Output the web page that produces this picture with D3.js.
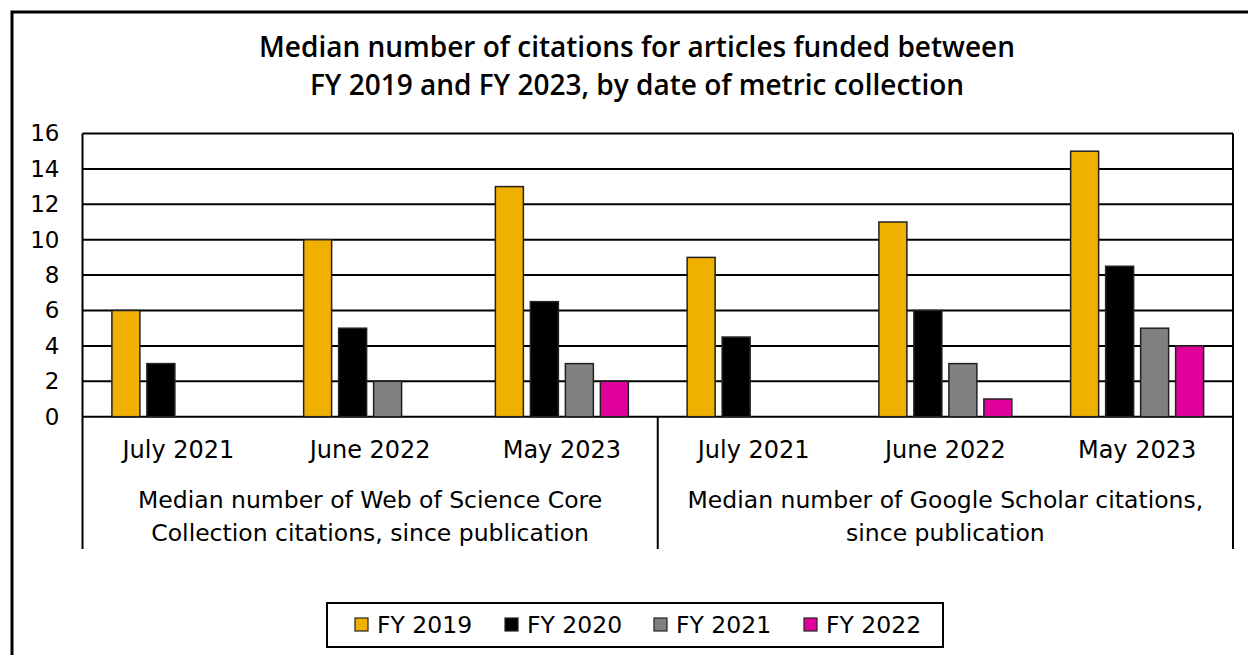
<!DOCTYPE html>
<html>
<head>
<meta charset="utf-8">
<script src="https://cdn.jsdelivr.net/npm/d3@7"></script>
<style>
  body { margin: 0; background: #fff; }
  text { fill: #000; }
</style>
</head>
<body>
<div id="chart"></div>
<script>
var width = 1248;
var height = 655;

// data
var titleLines = ["Median number of citations for articles funded between",
                  "FY 2019 and FY 2023, by date of metric collection"];
var dates = ["July 2021", "June 2022", "May 2023"];
var groups = [
    ["Median number of Web of Science Core", "Collection citations, since publication"],
    ["Median number of Google Scholar citations,", "since publication"]
];
var seriesNames = ["FY 2019", "FY 2020", "FY 2021", "FY 2022"];
var seriesColors = ["#f0b000", "#000000", "#808080", "#e0009a"];
// order: WoS July21, June22, May23, GS July21, June22, May23
var fy2019 = [6, 10, 13, 9, 11, 15];
var fy2020 = [3, 5, 6.5, 4.5, 6, 8.5];
var fy2021 = [null, 2, 3, null, 3, 5];
var fy2022 = [null, null, 2, null, 1, 4];
var yTicks = [0, 2, 4, 6, 8, 10, 12, 14, 16];

var allSeries = [fy2019, fy2020, fy2021, fy2022];

var plot = {left: 82.5, right: 1233, top: 133.5, bottom: 416.7, axisBottom: 549};
var labelFont = "'DejaVu Sans', sans-serif";

var svg = d3.select('#chart')
    .append('svg')
    .attr('width', width)
    .attr('height', height);

// outer frame (right and bottom edges fall outside the picture)
svg.append('rect')
    .attr('x', 12).attr('y', 12)
    .attr('width', 1400).attr('height', 800)
    .attr('fill', 'none')
    .attr('stroke', '#000')
    .attr('stroke-width', 3);

// title
svg.append('g').selectAll('text')
    .data(titleLines)
    .enter().append('text')
    .attr('x', 637)
    .attr('y', function(d, i) { return 57 + i * 38; })
    .attr('text-anchor', 'middle')
    .style('font-family', "'Open Sans', sans-serif")
    .style('font-size', '28px')
    .style('font-weight', '600')
    .text(function(d) { return d; });

var keys = [];
groups.forEach(function(g, gi) {
    dates.forEach(function(d, di) { keys.push(gi + '|' + di); });
});

var x0 = d3.scaleBand().domain(keys).range([plot.left, plot.right]).padding(0);
var x1 = d3.scaleBand().domain(seriesNames).range([0, x0.bandwidth()])
    .paddingInner(0.2).paddingOuter(0.84);
var y = d3.scaleLinear().domain([0, 16]).range([plot.bottom, plot.top]);

// gridlines
svg.append('g').selectAll('line')
    .data(yTicks)
    .enter().append('line')
    .attr('x1', plot.left).attr('x2', plot.right)
    .attr('y1', function(d) { return y(d); })
    .attr('y2', function(d) { return y(d); })
    .attr('stroke', '#000')
    .attr('stroke-width', 2);

// y axis labels
var yAxis = d3.axisLeft(y).tickValues(yTicks).tickSize(0).tickPadding(23);
var gy = svg.append('g')
    .attr('transform', 'translate(' + plot.left + ',0)')
    .call(yAxis);
gy.select('.domain').remove();
gy.selectAll('text')
    .style('font-family', labelFont)
    .style('font-size', '23px')
    .attr('fill', '#000');

// bars
var barData = [];
allSeries.forEach(function(vals, si) {
    vals.forEach(function(v, ki) {
        if (v != null) barData.push({series: seriesNames[si], color: seriesColors[si], key: keys[ki], value: v});
    });
});
svg.append('g').selectAll('rect')
    .data(barData)
    .enter().append('rect')
    .attr('x', function(d) { return x0(d.key) + x1(d.series); })
    .attr('width', x1.bandwidth())
    .attr('y', function(d) { return y(d.value); })
    .attr('height', function(d) { return y(0) - y(d.value); })
    .attr('fill', function(d) { return d.color; })
    .attr('stroke', '#222')
    .attr('stroke-width', 1.5);

// frame lines: left, right, group divider
var groupWidth = x0.bandwidth() * dates.length;
var vlines = [plot.left, plot.left + groupWidth, plot.right];
svg.append('g').selectAll('line')
    .data(vlines)
    .enter().append('line')
    .attr('x1', function(d) { return d; })
    .attr('x2', function(d) { return d; })
    .attr('y1', function(d, i) { return i == 1 ? plot.bottom : plot.top; })
    .attr('y2', plot.axisBottom)
    .attr('stroke', '#000')
    .attr('stroke-width', 2);

// date labels
svg.append('g').selectAll('text')
    .data(keys)
    .enter().append('text')
    .attr('x', function(d) { return x0(d) + x0.bandwidth() / 2; })
    .attr('y', 458)
    .attr('text-anchor', 'middle')
    .style('font-family', labelFont)
    .style('font-size', '24px')
    .text(function(d) { return dates[+d.split('|')[1]]; });

// group labels
var gl = svg.append('g').selectAll('text')
    .data(groups)
    .enter().append('text')
    .attr('x', function(d, i) { return plot.left + groupWidth * (i + 0.5); })
    .attr('text-anchor', 'middle')
    .style('font-family', labelFont)
    .style('font-size', '23.5px');
gl.selectAll('tspan')
    .data(function(d) { return d; })
    .enter().append('tspan')
    .attr('x', function() { return d3.select(this.parentNode).attr('x'); })
    .attr('y', function(d, i) { return 508 + i * 33; })
    .text(function(d) { return d; });

// legend
svg.append('rect')
    .attr('x', 327).attr('y', 603)
    .attr('width', 616).attr('height', 44)
    .attr('fill', '#fff')
    .attr('stroke', '#000')
    .attr('stroke-width', 2);
var legendX = [355, 505, 654, 804];
var li = svg.append('g').selectAll('g')
    .data(seriesNames)
    .enter().append('g')
    .attr('transform', function(d, i) { return 'translate(' + legendX[i] + ',618)'; });
li.append('rect')
    .attr('width', 13).attr('height', 13)
    .attr('fill', function(d, i) { return seriesColors[i]; })
    .attr('stroke', '#222')
    .attr('stroke-width', 1.2);
li.append('text')
    .attr('x', 22).attr('y', 15)
    .style('font-family', labelFont)
    .style('font-size', '23.5px')
    .text(function(d) { return d; });
</script>
</body>
</html>
